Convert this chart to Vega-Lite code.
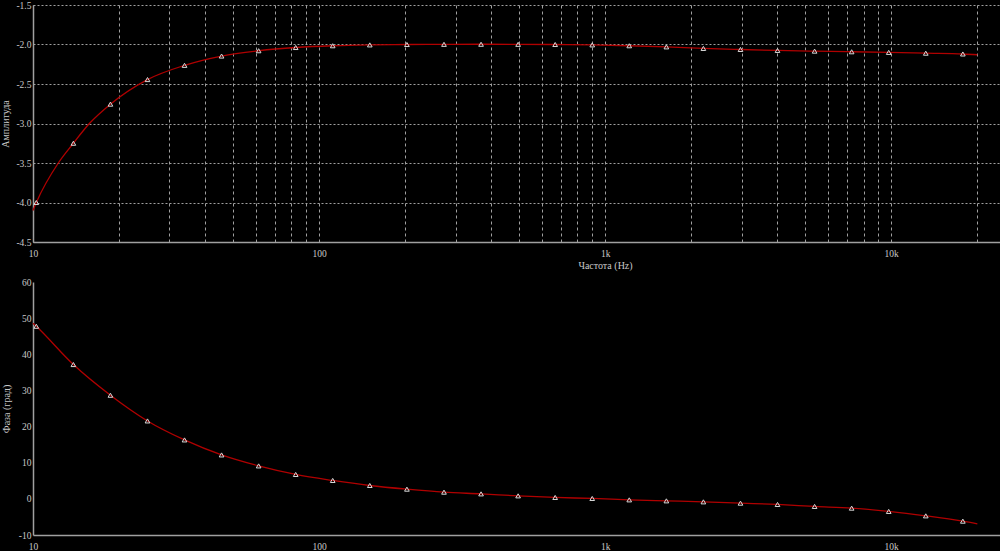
{
  "$schema": "https://vega.github.io/schema/vega-lite/v6.json",
  "background": "#000000",
  "padding": {"left": 0, "top": 0, "right": 0, "bottom": 0},
  "autosize": {"type": "pad"},
  "spacing": 40,
  "bounds": "flush",
  "config": {
    "view": {"stroke": null},
    "font": "Liberation Serif",
    "axis": {
      "labelFont": "Liberation Serif",
      "labelFontSize": 9.5,
      "labelColor": "#c8c8c8",
      "titleFont": "Liberation Serif",
      "titleFontSize": 10,
      "titleFontWeight": "normal",
      "titleColor": "#c8c8c8",
      "domainColor": "#a0a0a0",
      "domainWidth": 1.5,
      "ticks": false,
      "labelOverlap": false,
      "labelBound": false,
      "labelFlush": false
    }
  },
  "datasets": {
    "amp": [
      {"f": 10, "v": -4.1, "kind": "end"},
      {"f": 10.27, "v": -4.0, "kind": "sample"},
      {"f": 12.26, "v": -3.5, "kind": "end"},
      {"f": 13.84, "v": -3.25, "kind": "sample"},
      {"f": 15.74, "v": -3.0, "kind": "end"},
      {"f": 18.65, "v": -2.755, "kind": "sample"},
      {"f": 25.13, "v": -2.444, "kind": "sample"},
      {"f": 33.86, "v": -2.264, "kind": "sample"},
      {"f": 45.62, "v": -2.146, "kind": "sample"},
      {"f": 61.48, "v": -2.079, "kind": "sample"},
      {"f": 82.85, "v": -2.038, "kind": "sample"},
      {"f": 111.6, "v": -2.016, "kind": "sample"},
      {"f": 150.4, "v": -2.005, "kind": "sample"},
      {"f": 202.8, "v": -2.0, "kind": "sample"},
      {"f": 273.3, "v": -1.998, "kind": "sample"},
      {"f": 368.3, "v": -1.997, "kind": "sample"},
      {"f": 496.3, "v": -1.998, "kind": "sample"},
      {"f": 668.7, "v": -2.0, "kind": "sample"},
      {"f": 901.2, "v": -2.005, "kind": "sample"},
      {"f": 1214, "v": -2.016, "kind": "sample"},
      {"f": 1637, "v": -2.03, "kind": "sample"},
      {"f": 2205, "v": -2.05, "kind": "sample"},
      {"f": 2972, "v": -2.063, "kind": "sample"},
      {"f": 4004, "v": -2.075, "kind": "sample"},
      {"f": 5397, "v": -2.084, "kind": "sample"},
      {"f": 7272, "v": -2.092, "kind": "sample"},
      {"f": 9799, "v": -2.1, "kind": "sample"},
      {"f": 13205, "v": -2.11, "kind": "sample"},
      {"f": 17797, "v": -2.12, "kind": "sample"},
      {"f": 20000, "v": -2.13, "kind": "end"}
    ],
    "phase": [
      {"f": 10, "v": 48.6, "kind": "end"},
      {"f": 10.27, "v": 47.75, "kind": "sample"},
      {"f": 13.84, "v": 37.16, "kind": "sample"},
      {"f": 18.65, "v": 28.67, "kind": "sample"},
      {"f": 25.13, "v": 21.56, "kind": "sample"},
      {"f": 33.86, "v": 16.31, "kind": "sample"},
      {"f": 45.62, "v": 12.16, "kind": "sample"},
      {"f": 61.48, "v": 9.12, "kind": "sample"},
      {"f": 82.85, "v": 6.75, "kind": "sample"},
      {"f": 111.6, "v": 5.09, "kind": "sample"},
      {"f": 150.4, "v": 3.7, "kind": "sample"},
      {"f": 202.8, "v": 2.68, "kind": "sample"},
      {"f": 273.3, "v": 1.85, "kind": "sample"},
      {"f": 368.3, "v": 1.38, "kind": "sample"},
      {"f": 496.3, "v": 0.83, "kind": "sample"},
      {"f": 668.7, "v": 0.39, "kind": "sample"},
      {"f": 901.2, "v": 0.11, "kind": "sample"},
      {"f": 1214, "v": -0.28, "kind": "sample"},
      {"f": 1637, "v": -0.55, "kind": "sample"},
      {"f": 2205, "v": -0.83, "kind": "sample"},
      {"f": 2972, "v": -1.19, "kind": "sample"},
      {"f": 4004, "v": -1.55, "kind": "sample"},
      {"f": 5397, "v": -2.1, "kind": "sample"},
      {"f": 7272, "v": -2.57, "kind": "sample"},
      {"f": 9799, "v": -3.48, "kind": "sample"},
      {"f": 13205, "v": -4.7, "kind": "sample"},
      {"f": 17797, "v": -6.17, "kind": "sample"},
      {"f": 20000, "v": -6.9, "kind": "end"}
    ]
  },
  "vconcat": [
    {
      "width": 967,
      "height": 237,
      "data": {"name": "amp"},
      "encoding": {
        "x": {
          "field": "f",
          "type": "quantitative",
          "scale": {"type": "log", "domain": [10, 24000], "nice": false},
          "axis": {
            "values": [10, 20, 30, 40, 50, 60, 70, 80, 90, 100, 200, 300, 400, 500, 600, 700, 800, 900, 1000, 2000, 3000, 4000, 5000, 6000, 7000, 8000, 9000, 10000, 20000],
            "labelExpr": "indexof([10, 100, 1000, 10000], datum.value) >= 0 ? (datum.value >= 1000 ? (datum.value / 1000) + 'k' : datum.value + '') : ''",
            "grid": true,
            "gridColor": "#a0a0a0",
            "gridDash": [3, 3],
            "gridWidth": 1,
            "labelPadding": 6,
            "title": "Частота (Hz)",
            "titleX": 572,
            "titlePadding": 3
          }
        },
        "y": {
          "field": "v",
          "type": "quantitative",
          "scale": {"domain": [-4.5, -1.5], "nice": false, "zero": false},
          "axis": {
            "values": [-4.5, -4.0, -3.5, -3.0, -2.5, -2.0, -1.5],
            "labelExpr": "replace(format(datum.value, '.1f'), '\u2212', '-')",
            "grid": true,
            "gridColor": "#a0a0a0",
            "gridDash": [2, 2],
            "gridWidth": 1,
            "labelPadding": 2,
            "title": "Амплитуда",
            "titlePadding": 5
          }
        }
      },
      "layer": [
        {"mark": {"type": "line", "color": "#b00000", "strokeWidth": 1.3, "interpolate": "monotone"}},
        {
          "transform": [{"filter": "datum.kind == 'sample'"}],
          "mark": {"type": "point", "shape": "triangle-up", "filled": false, "stroke": "#d8d8d8", "strokeWidth": 1, "size": 22, "opacity": 1}
        }
      ]
    },
    {
      "width": 967,
      "height": 253,
      "data": {"name": "phase"},
      "encoding": {
        "x": {
          "field": "f",
          "type": "quantitative",
          "scale": {"type": "log", "domain": [10, 24000], "nice": false},
          "axis": {
            "values": [10, 20, 30, 40, 50, 60, 70, 80, 90, 100, 200, 300, 400, 500, 600, 700, 800, 900, 1000, 2000, 3000, 4000, 5000, 6000, 7000, 8000, 9000, 10000, 20000],
            "labelExpr": "indexof([10, 100, 1000, 10000], datum.value) >= 0 ? (datum.value >= 1000 ? (datum.value / 1000) + 'k' : datum.value + '') : ''",
            "grid": false,
            "labelPadding": 6,
            "title": null
          }
        },
        "y": {
          "field": "v",
          "type": "quantitative",
          "scale": {"domain": [-10, 60], "nice": false, "zero": false},
          "axis": {
            "values": [-10, 0, 10, 20, 30, 40, 50, 60],
            "labelExpr": "replace(format(datum.value, 'd'), '\u2212', '-')",
            "grid": false,
            "labelPadding": 2,
            "title": "Фаза (град)",
            "titlePadding": 7
          }
        }
      },
      "layer": [
        {"mark": {"type": "line", "color": "#b00000", "strokeWidth": 1.3, "interpolate": "monotone"}},
        {
          "transform": [{"filter": "datum.kind == 'sample'"}],
          "mark": {"type": "point", "shape": "triangle-up", "filled": false, "stroke": "#d8d8d8", "strokeWidth": 1, "size": 22, "opacity": 1}
        }
      ]
    }
  ]
}
